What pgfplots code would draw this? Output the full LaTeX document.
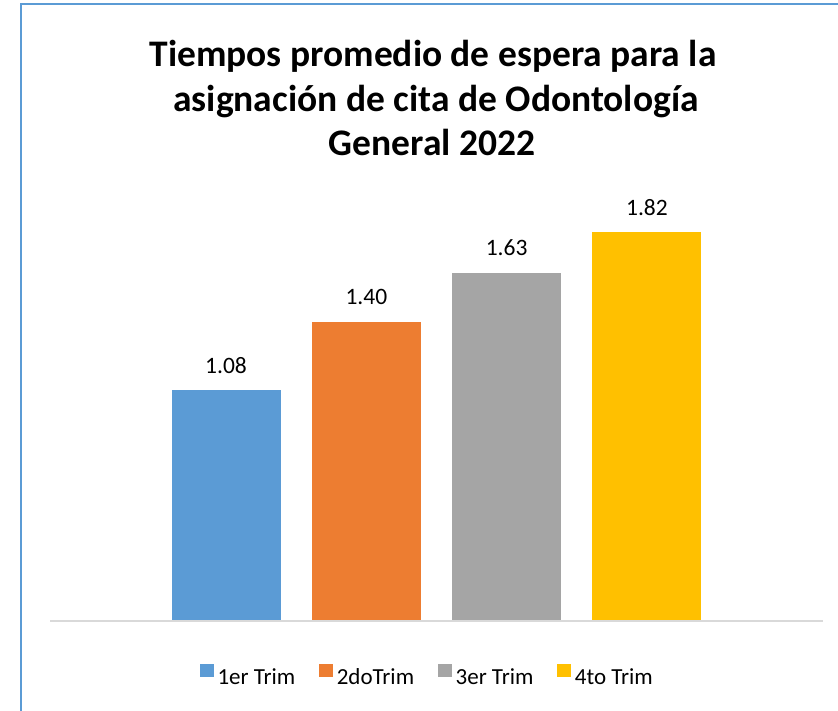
\documentclass[border=0pt]{standalone}
\usepackage{pgfplots}
\pgfplotsset{compat=1.18}
\usepackage{fontspec}
\setmainfont{Carlito}
\definecolor{cblue}{HTML}{5B9BD5}
\definecolor{corange}{HTML}{ED7D31}
\definecolor{cgray}{HTML}{A5A5A5}
\definecolor{cgold}{HTML}{FFC000}
\definecolor{cborder}{HTML}{5B9BD5}
\definecolor{cbase}{HTML}{D9D9D9}
\begin{document}
\begin{tikzpicture}
\path[use as bounding box] (0pt,0pt) rectangle (838pt,-711pt);
\fill[white] (0pt,0pt) rectangle (838pt,-711pt);
\begin{axis}[
  at={(50pt,-621pt)}, anchor=south west,
  scale only axis, width=773pt, height=427.4pt,
  xmin=-1.255, xmax=4.255, ymin=0, ymax=2,
  hide axis,
  ybar, bar width=109pt, bar shift=0pt,
  nodes near coords,
  /pgf/number format/.cd, fixed, fixed zerofill, precision=2, assume math mode=true,
  /pgfplots/.cd,
  every node near coord/.append style={font=\fontsize{23.5}{27}\selectfont, anchor=base, yshift=17pt, inner sep=0pt, text=black},
  legend columns=4,
  legend style={at={(0.487,-0.1264)}, anchor=center, draw=none, fill=none,
    font=\fontsize{23}{27}\selectfont,
    nodes={inner sep=0pt},
    /tikz/every odd column/.append style={column sep=4pt},
    /tikz/every even column/.append style={column sep=24pt}},
  legend image code/.code={\fill[#1] (0pt,0.5pt) rectangle (13.5pt,14pt);},
]
\addplot[fill=cblue, draw=none] coordinates {(0,1.08)};
\addlegendentry{1er Trim}
\addplot[fill=corange, draw=none] coordinates {(1,1.40)};
\addlegendentry{2doTrim}
\addplot[fill=cgray, draw=none] coordinates {(2,1.63)};
\addlegendentry{3er Trim}
\addplot[fill=cgold, draw=none] coordinates {(3,1.82)};
\addlegendentry{4to Trim}
\end{axis}
\draw[cbase, line width=1.5pt] (50pt,-621pt) -- (823pt,-621pt);
\draw[cborder, line width=2pt] (20.5pt,-711pt) -- (20.5pt,-4.5pt) -- (838pt,-4.5pt);
\begin{scope}[every node/.style={anchor=base, inner sep=0pt, font=\bfseries\fontsize{37.5}{44}\selectfont}]
\node at (433pt,-67pt) {Tiempos promedio de espera para la};
\node at (436pt,-112pt) {asignación de cita de Odontología};
\node at (432pt,-156pt) {General 2022};
\end{scope}
\end{tikzpicture}
\end{document}
